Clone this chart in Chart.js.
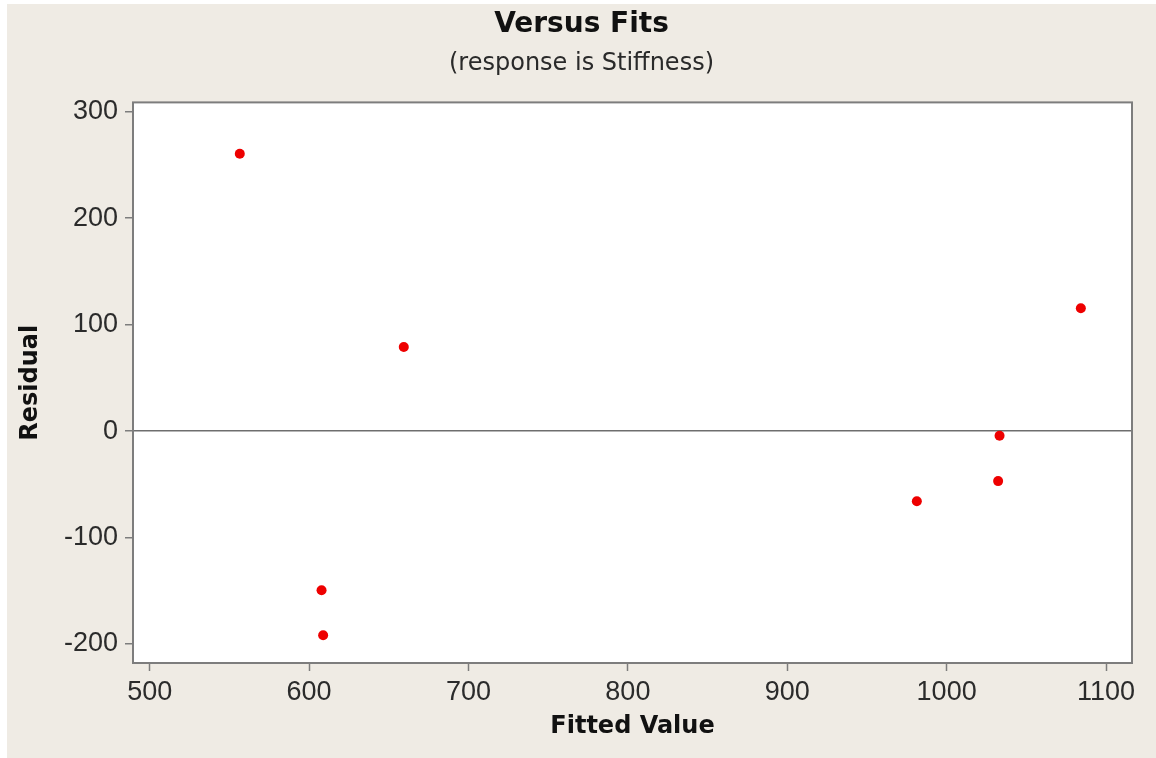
<!DOCTYPE html>
<html>
<head>
<meta charset="utf-8">
<script src="https://cdn.jsdelivr.net/npm/chart.js@4"></script>
<style>
  html, body { margin: 0; padding: 0; background: #ffffff; }
  #wrap { width: 1156px; height: 758px; }
</style>
</head>
<body>
<div id="wrap"><canvas id="fitsChart" width="1156" height="758"></canvas></div>
<script>
// residuals vs fitted values
const fittedValues = [556.5, 607.8, 608.8, 659.4, 981.3, 1032.3, 1033.2, 1084.2];
const residuals = [260.6, -149.6, -191.9, 79.0, -65.9, -47.0, -4.4, 115.4];
const xTicks = [500, 600, 700, 800, 900, 1000, 1100];
const yTicks = [-200, -100, 0, 100, 200, 300];

const points = fittedValues.map((x, i) => ({ x: x, y: residuals[i] }));

// beige panel, white plot area and grey frame
const panelPlugin = {
    id: 'panel',
    beforeDraw(chart) {
        const ctx = chart.ctx;
        const area = chart.chartArea;
        ctx.save();
        ctx.fillStyle = '#ffffff';
        ctx.fillRect(0, 0, chart.width, chart.height);
        ctx.fillStyle = '#efebe4';
        ctx.fillRect(7, 4, chart.width - 7, chart.height - 4);
        ctx.fillStyle = '#ffffff';
        ctx.fillRect(area.left, area.top, area.right - area.left, area.bottom - area.top);
        ctx.restore();
    },
    beforeDatasetsDraw(chart) {
        const ctx = chart.ctx;
        const area = chart.chartArea;
        ctx.save();
        ctx.strokeStyle = '#7d7d7d';
        ctx.lineWidth = 2;
        ctx.strokeRect(area.left, area.top, area.right - area.left, area.bottom - area.top);
        ctx.restore();
    }
};

const tickFont = { family: '"Liberation Sans", Arial, sans-serif', size: 27 };
const titleFont = { family: '"DejaVu Sans", Verdana, sans-serif', size: 24, weight: 'bold', lineHeight: 1.2 };
const plainLabel = (value) => String(value);

new Chart(document.getElementById('fitsChart').getContext('2d'), {
    type: 'scatter',
    data: {
        datasets: [{
            data: points,
            backgroundColor: '#ee0000',
            borderColor: '#ee0000',
            pointRadius: 5,
            pointHoverRadius: 5,
            borderWidth: 0
        }]
    },
    options: {
        responsive: false,
        animation: false,
        devicePixelRatio: 1,
        layout: { padding: { left: 7, right: 0, top: 0, bottom: 0 } },
        plugins: {
            legend: { display: false },
            tooltip: { enabled: false },
            title: {
                display: true,
                text: 'Versus Fits',
                color: '#111111',
                font: { family: '"DejaVu Sans", Verdana, sans-serif', size: 28, weight: 'bold', lineHeight: 1.2 },
                padding: { top: 8, bottom: 0 }
            },
            subtitle: {
                display: true,
                text: '(response is Stiffness)',
                color: '#2a2a2a',
                font: { family: '"DejaVu Sans", Verdana, sans-serif', size: 24, lineHeight: 1.2 },
                padding: { top: 8, bottom: 24 }
            }
        },
        scales: {
            x: {
                type: 'linear',
                min: 489.5,
                max: 1116.3,
                afterBuildTicks: (scale) => { scale.ticks = xTicks.map(v => ({ value: v })); },
                afterFit: (scale) => { scale.height = 95; },
                border: { display: false },
                grid: {
                    drawOnChartArea: false,
                    tickLength: 8,
                    tickColor: '#7d7d7d',
                    tickWidth: 1.5
                },
                ticks: { color: '#2b2b2b', font: tickFont, padding: 5, maxRotation: 0, callback: plainLabel },
                title: {
                    display: true,
                    text: 'Fitted Value',
                    color: '#111111',
                    font: titleFont,
                    padding: { top: 0, bottom: 17 }
                }
            },
            y: {
                type: 'linear',
                min: -217.9,
                max: 308.8,
                afterBuildTicks: (scale) => { scale.ticks = yTicks.map(v => ({ value: v })); },
                afterFit: (scale) => { scale.width = 126; },
                border: { display: false },
                grid: {
                    color: (c) => (c.tick && c.tick.value === 0 ? '#6e6e6e' : 'rgba(0,0,0,0)'),
                    lineWidth: 1.5,
                    tickLength: 8,
                    tickColor: '#7d7d7d',
                    tickWidth: 1.5
                },
                ticks: { color: '#2b2b2b', font: tickFont, padding: 7, callback: plainLabel },
                title: {
                    display: true,
                    text: 'Residual',
                    color: '#111111',
                    font: titleFont,
                    padding: { top: 9, bottom: 0 }
                }
            },
            // empty right axis, only reserves the margin right of the frame
            yRight: {
                type: 'linear',
                position: 'right',
                display: true,
                afterFit: (scale) => { scale.width = 24; },
                border: { display: false },
                grid: { display: false },
                ticks: { display: false }
            }
        }
    },
    plugins: [panelPlugin]
});
</script>
</body>
</html>
